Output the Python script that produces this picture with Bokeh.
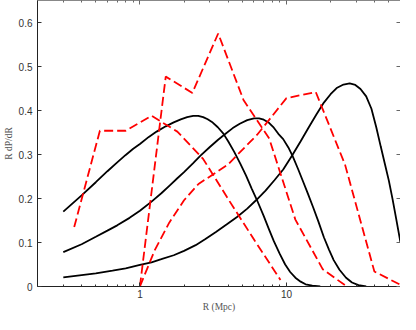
from bokeh.plotting import figure
from bokeh.models import (FixedTicker, NumeralTickFormatter, LinearAxis, LogAxis,
                          CustomJSTickFormatter)
from bokeh.embed import file_html
from bokeh.resources import INLINE

# ---- data ----
# solid model curves
model_a_r = [0.3, 0.4, 0.5, 0.6, 0.7, 0.8, 0.9, 1.0, 1.15, 1.3, 1.5, 1.7, 1.9, 2.1, 2.31,
             2.5, 2.7, 2.9, 3.1, 3.4, 3.7, 4.0, 4.4, 4.83, 5.3, 5.8, 6.3, 7.0, 7.6, 8.2,
             9.0, 9.8, 10.6, 11.5, 12.5, 13.5, 15.0, 17.0]
model_a_y = [0.170, 0.207, 0.237, 0.262, 0.282, 0.299, 0.313, 0.324, 0.340, 0.352, 0.364,
             0.373, 0.380, 0.385, 0.388, 0.388, 0.385, 0.380, 0.374, 0.362, 0.348, 0.330,
             0.306, 0.280, 0.252, 0.222, 0.196, 0.160, 0.130, 0.103, 0.074, 0.050, 0.033,
             0.020, 0.011, 0.005, 0.002, 0.0]

model_b_r = [0.3, 0.4, 0.5, 0.6, 0.7, 0.85, 1.0, 1.2, 1.4, 1.6, 1.8, 2.0, 2.3, 2.6, 3.0,
             3.4, 3.8, 4.3, 4.8, 5.4, 6.0, 6.5, 7.0, 7.6, 8.2, 8.8, 9.5, 10.3, 11.0, 12.0,
             13.0, 14.0, 15.2, 16.5, 18.0, 19.5, 21.0, 23.0, 25.5, 28.0, 31.0, 35.0]
model_b_y = [0.078, 0.096, 0.113, 0.127, 0.139, 0.156, 0.172, 0.193, 0.212, 0.230, 0.246,
             0.260, 0.280, 0.298, 0.317, 0.333, 0.346, 0.360, 0.370, 0.378, 0.382, 0.382,
             0.379, 0.372, 0.361, 0.347, 0.335, 0.316, 0.297, 0.267, 0.238, 0.211, 0.180,
             0.148, 0.112, 0.084, 0.060, 0.038, 0.020, 0.009, 0.003, 0.0]

model_c_r = [0.3, 0.4, 0.5, 0.65, 0.8, 1.0, 1.2, 1.4, 1.7, 2.0, 2.4, 2.8, 3.3, 3.9, 4.6,
             5.4, 6.2, 7.2, 8.3, 9.5, 10.9, 12.5, 14.2, 16.0, 18.0, 20.0, 22.0, 24.5, 27.0,
             29.5, 32.0, 35.0, 38.0, 41.0, 44.0, 47.0, 50.0, 53.0, 56.0, 60.0]
model_c_y = [0.0205, 0.026, 0.030, 0.036, 0.041, 0.049, 0.055, 0.062, 0.071, 0.081, 0.094,
             0.108, 0.124, 0.141, 0.158, 0.177, 0.196, 0.218, 0.242, 0.266, 0.297, 0.330,
             0.362, 0.391, 0.418, 0.437, 0.451, 0.459, 0.4615, 0.458, 0.449, 0.432, 0.404,
             0.362, 0.318, 0.278, 0.240, 0.198, 0.155, 0.100]

# dashed measured histograms
obs_a_r = [0.356, 0.533, 0.8, 1.2, 1.8, 2.7, 4.05, 6.08, 9.1]
obs_a_y = [0.135, 0.354, 0.354, 0.388, 0.352, 0.290, 0.196, 0.104, 0.015]

obs_b_r = [1.0, 1.5, 2.28, 3.42, 5.09, 7.63, 11.5, 17.7, 25.8]
obs_b_y = [0.0, 0.477, 0.440, 0.575, 0.424, 0.336, 0.152, 0.039, 0.0]

obs_c_r = [1.0, 1.26, 1.585, 2.0, 2.51, 3.98, 6.31, 10.0, 15.85, 25.1, 39.8, 63.1]
obs_c_y = [0.0, 0.082, 0.145, 0.196, 0.233, 0.277, 0.345, 0.428, 0.442, 0.277, 0.034, 0.0]

x_major = [1, 10]
x_minor = [0.2, 0.3, 0.4, 0.5, 0.6, 0.7, 0.8, 0.9, 2, 3, 4, 5, 6, 7, 8, 9, 20, 30, 40, 50]
y_major = [0, 0.1, 0.2, 0.3, 0.4, 0.5, 0.6]

# ---- figure ----
p = figure(width=400, height=314, x_axis_type="log", x_range=(0.2, 60), y_range=(0, 0.65),
           output_backend="svg", toolbar_location=None,
           min_border_left=35, min_border_right=0, min_border_top=0, min_border_bottom=0)
p.background_fill_color = "white"
p.border_fill_color = "white"
p.outline_line_color = None
p.grid.visible = False

for xs, ys in [(model_a_r, model_a_y), (model_b_r, model_b_y), (model_c_r, model_c_y)]:
    p.line(xs, ys, line_color="black", line_width=1.8)
for xs, ys in [(obs_a_r, obs_a_y), (obs_b_r, obs_b_y), (obs_c_r, obs_c_y)]:
    p.line(xs, ys, line_color="#ff0000", line_width=1.8, line_dash="9 4")

tick_font = "Liberation Sans"
label_font = "Liberation Serif"

xa = p.xaxis[0]
xa.ticker = FixedTicker(ticks=x_major, minor_ticks=x_minor)
xa.formatter = NumeralTickFormatter(format="0")
xa.axis_label = "R (Mpc)"
ya = p.yaxis[0]
ya.ticker = FixedTicker(ticks=y_major)
ya.formatter = NumeralTickFormatter(format="0.[0]")
ya.axis_label = "R dP/dR"

for ax in (xa, ya):
    ax.major_tick_in = 4
    ax.major_tick_out = 0
    ax.minor_tick_in = 2
    ax.minor_tick_out = 0
    ax.axis_line_color = "#222222"
    ax.major_tick_line_color = "#333333"
    ax.minor_tick_line_color = "#333333"
    ax.major_label_text_font = tick_font
    ax.major_label_text_font_size = "10px"
    ax.major_label_text_color = "#333333"
    ax.axis_label_text_font = label_font
    ax.axis_label_text_font_style = "normal"
    ax.axis_label_text_font_size = "9.5px"
    ax.axis_label_text_color = "#555555"
xa.major_label_standoff = 3
xa.axis_label_standoff = 1
ya.major_label_standoff = 5
ya.axis_label_standoff = 2

blank = CustomJSTickFormatter(code="return ''")
top = LogAxis(ticker=FixedTicker(ticks=x_major, minor_ticks=x_minor), formatter=blank)
right = LinearAxis(ticker=FixedTicker(ticks=y_major), formatter=blank)
for ax in (top, right):
    ax.major_tick_in = 4
    ax.major_tick_out = 0
    ax.minor_tick_in = 2
    ax.minor_tick_out = 0
    ax.axis_line_color = "#888888"
    ax.major_tick_line_color = "#666666"
    ax.minor_tick_line_color = "#666666"
    ax.major_label_text_font_size = "0px"
    ax.major_label_standoff = 0
p.add_layout(top, "above")
p.add_layout(right, "right")

open("out.html", "w").write(file_html(p, INLINE))
